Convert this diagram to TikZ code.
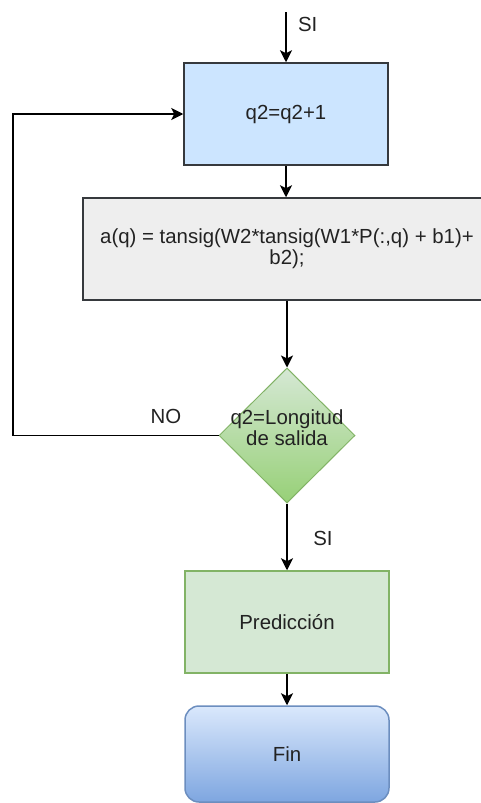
\documentclass[tikz,border=0pt]{standalone}
\usepackage{fontspec}
\setmainfont{Liberation Sans}
\usetikzlibrary{positioning,shapes.geometric,arrows.meta}
\definecolor{boxline}{HTML}{36393D}
\definecolor{lightblue}{HTML}{CCE5FF}
\definecolor{lightgray}{HTML}{EEEEEE}
\definecolor{greenline}{HTML}{82B366}
\definecolor{greenfill}{HTML}{D5E8D4}
\definecolor{greendark}{HTML}{97D077}
\definecolor{blueline}{HTML}{6C8EBF}
\definecolor{bluetop}{HTML}{DAE8FC}
\definecolor{bluebottom}{HTML}{7EA6E0}
\definecolor{textgray}{HTML}{222222}

\tikzset{
	flow/.style={-{Stealth[length=6pt,width=6pt,inset=1.5pt]},line width=0.75pt},
	txt/.style={font=\fontsize{10.2}{8.6}\selectfont,text=textgray,align=center},
}

\begin{document}
\begin{tikzpicture}[x=0.5pt,y=-0.5pt]
		\clip (0,0) rectangle (481,803);
		% boxes
		\node[draw=boxline,fill=lightblue,line width=0.75pt,minimum width=102pt,minimum height=51pt,txt] (inc) at (286,114) {q2=q2+1};
		\node[draw=boxline,fill=lightgray,line width=0.75pt,minimum width=204pt,minimum height=51pt,txt] (calc) at (287,249) {a(q) = tansig(W2*tansig(W1*P(:,q) + b1)+\\b2);};
		\node[diamond,draw=greenline,top color=greenfill,bottom color=greendark,line width=0.5pt,minimum width=68pt,minimum height=67.5pt,inner sep=0pt] (cond) at (287,435.5) {};
		\node[txt] (condtxt) at (287,428) {q2=Longitud\\de salida};
		\node[draw=greenline,fill=greenfill,line width=0.75pt,minimum width=102pt,minimum height=51pt,txt] (pred) at (287,622) {Predicción};
		\node[draw=blueline,top color=bluetop,bottom color=bluebottom,rounded corners=7pt,line width=0.75pt,minimum width=102pt,minimum height=48pt,txt] (fin) at (287,754) {Fin};
		% connectors
		\coordinate (start) at (286,12);
		\draw[flow] (start) -- (inc.north);
		\draw[flow] (inc.south) -- (inc.south |- calc.north);
		\draw[flow] (calc.south -| cond.north) -- (cond.north);
		\draw[flow] (cond.south) -- (pred.north);
		\draw[flow] (pred) -- (fin);
		\draw[flow] (cond.west) -- (13,435.5) |- (inc.west);
		% labels
		\node[txt,anchor=west] (si1) at (291,24) {SI};
		\node[txt] (no) at (166,416) {NO};
		\node[txt] (si2) at (323,538) {SI};
	\end{tikzpicture}
\end{document}
